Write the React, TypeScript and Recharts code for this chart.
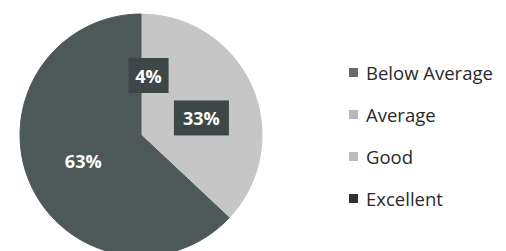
import { Legend, Pie, PieChart, Cell } from "recharts";

const CATEGORIAS = ["Below Average", "Average", "Good", "Excellent"];
const PERCENTUAIS = [4, 33, 0, 63];
const CORES = ["#c6c6c6", "#c6c6c6", "#bdbdbd", "#4d5858"];
const CORES_LEGENDA = ["#6a6a6a", "#b8b8b8", "#bcbcbc", "#2e3232"];

const dados = CATEGORIAS.map((nome, i) => ({ nome, valor: PERCENTUAIS[i] }));

const RAD = Math.PI / 180;
const FATORES = [0.5, 0.52, 0.5, 0.52];

function Rotulo(props: any) {
  const { cx, cy, midAngle, outerRadius, value, index } = props;
  if (!value) return null;
  const r = outerRadius * FATORES[index];
  const x = cx + r * Math.cos(-midAngle * RAD);
  const y = cy + r * Math.sin(-midAngle * RAD);
  const texto = `${value}%`;
  const largura = texto.length === 2 ? 40 : 55;
  return (
    <g>
      {index !== 3 && (
        <rect x={x - largura / 2} y={y - 17} width={largura} height={35} fill="#3e4747" />
      )}
      <text
        x={x}
        y={y + 1}
        fill="#ffffff"
        textAnchor="middle"
        dominantBaseline="central"
        fontFamily="'Open Sans', sans-serif"
        fontWeight={700}
        fontSize={18}
      >
        {texto}
      </text>
    </g>
  );
}

function Legenda() {
  return (
    <div style={{ display: "flex", flexDirection: "column", gap: 18 }}>
      {CATEGORIAS.map((nome, i) => (
        <div key={nome} style={{ display: "flex", alignItems: "center", height: 24 }}>
          <span
            style={{
              width: 9,
              height: 9,
              background: CORES_LEGENDA[i],
              marginRight: 8,
              display: "inline-block",
            }}
          />
          <span
            style={{
              fontFamily: "'Open Sans', sans-serif",
              fontSize: 18.5,
              color: "#2a2a2a",
            }}
          >
            {nome}
          </span>
        </div>
      ))}
    </div>
  );
}

export default function App() {
  return (
    <div style={{ position: "absolute", left: 0, top: 0, background: "#ffffff" }}>
      <PieChart width={506} height={251}>
        <Pie
          data={dados}
          dataKey="valor"
          nameKey="nome"
          cx={136}
          cy={130}
          outerRadius={121}
          startAngle={90}
          endAngle={-270}
          label={Rotulo}
          labelLine={false}
          isAnimationActive={false}
        >
          {dados.map((d, i) => (
            <Cell key={d.nome} fill={CORES[i]} stroke={CORES[i]} strokeWidth={1} />
          ))}
        </Pie>
        <Legend
          layout="vertical"
          verticalAlign="top"
          align="right"
          content={() => <Legenda />}
          wrapperStyle={{ left: 349, top: 60, width: 160 }}
        />
      </PieChart>
    </div>
  );
}
